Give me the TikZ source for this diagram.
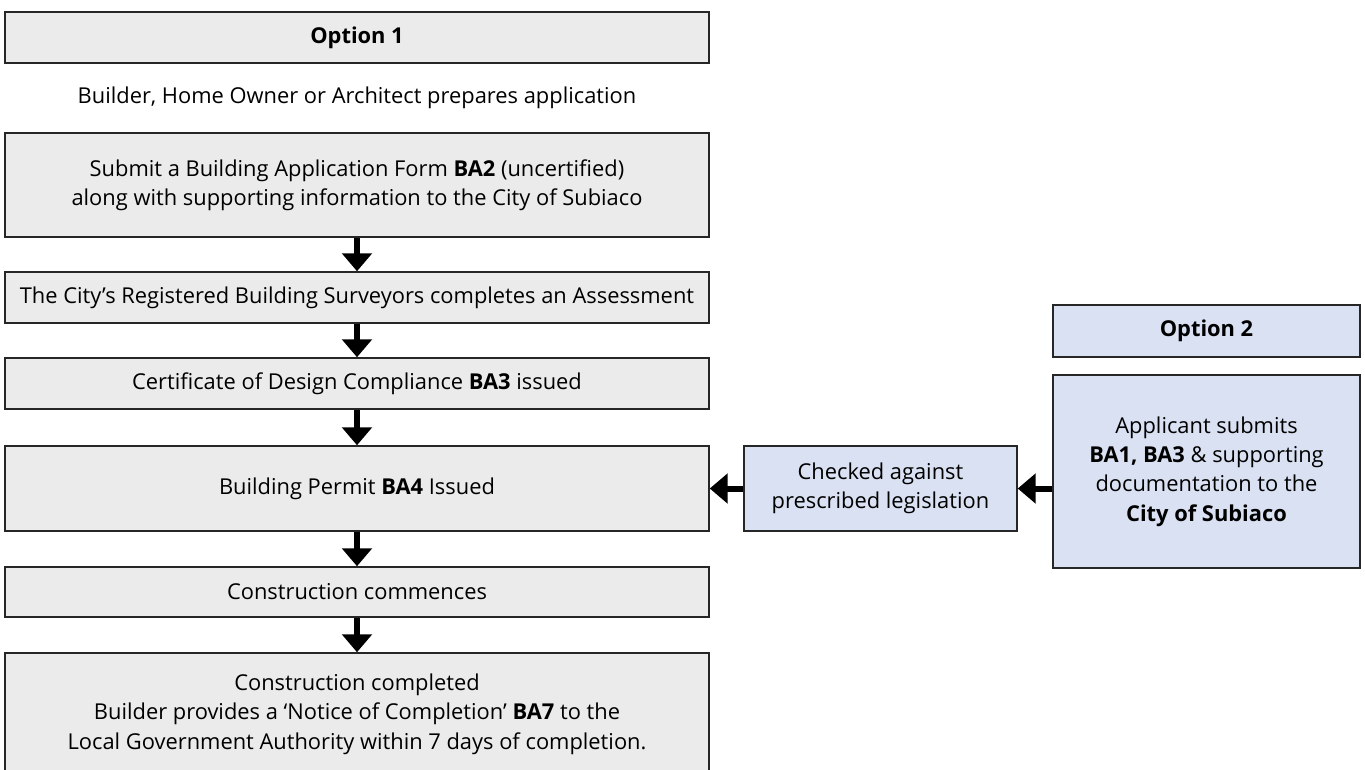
\documentclass[tikz,border=0pt]{standalone}
\usepackage{fontspec}
\setmainfont{Open Sans}
\usetikzlibrary{positioning,arrows.meta}

\definecolor{boxgray}{RGB}{235,235,235}
\definecolor{boxblue}{RGB}{217,225,242}

\begin{document}
\begin{tikzpicture}[x=0.75pt,y=-0.75pt,
  box/.style={draw=black!85, line width=1.1pt, fill=boxgray, align=center,
    inner sep=0pt, minimum width=528pt, font=\fontsize{16.4}{22}\selectfont},
  bluebox/.style={box, fill=boxblue},
  flow/.style={line width=4.5pt, -{Triangle[width=22pt,length=13.5pt]}}]
  \useasboundingbox (0,0) rectangle (1365,769);

  % option 1, left column
  \node[box, minimum height=38.25pt] (opt1) at (357,37.5) {\textbf{Option 1}};
  \node[font=\fontsize{16.4}{22}\selectfont] (prep) at (357,98)
    {Builder, Home Owner or Architect prepares application};
  \node[box, minimum height=78pt] (submit) at (357,185)
    {Submit a Building Application Form \textbf{BA2} (uncertified)\\
     along with supporting information to the City of Subiaco};
  \node[box, minimum height=38.25pt] (assess) at (357,297.5)
    {The City’s Registered Building Surveyors completes an Assessment};
  \node[box, minimum height=38.25pt] (cert) at (357,383.5)
    {Certificate of Design Compliance \textbf{BA3} issued};
  \node[box, minimum height=63.75pt] (permit) at (357,488.5)
    {Building Permit \textbf{BA4} Issued};
  \node[box, minimum height=37.5pt] (start) at (357,592)
    {Construction commences};
  \node[box, minimum height=91.5pt] (done) at (357,714)
    {Construction completed\\
     Builder provides a ‘Notice of Completion’ \textbf{BA7} to the\\
     Local Government Authority within 7 days of completion.};

  % option 2, right column
  \node[bluebox, minimum width=230.25pt, minimum height=39pt] (opt2) at (1206.5,331)
    {\textbf{Option 2}};
  \node[bluebox, minimum width=230.25pt, minimum height=144.75pt] (apply) at (1206.5,471.5)
    {Applicant submits\\
     \textbf{BA1, BA3} \& supporting\\
     documentation to the\\
     \textbf{City of Subiaco}};
  \node[bluebox, minimum width=204.75pt, minimum height=63.75pt] (check) at (880.5,488.5)
    {Checked against\\ prescribed legislation};

  \draw[flow] (submit) -- (assess);
  \draw[flow] (assess) -- (cert);
  \draw[flow] (cert) -- (permit);
  \draw[flow] (permit) -- (start);
  \draw[flow] (start) -- (done);
  \draw[flow] (apply.west |- check.east) -- (check.east);
  \draw[flow] (check.west) -- (permit.east);
\end{tikzpicture}
\end{document}
